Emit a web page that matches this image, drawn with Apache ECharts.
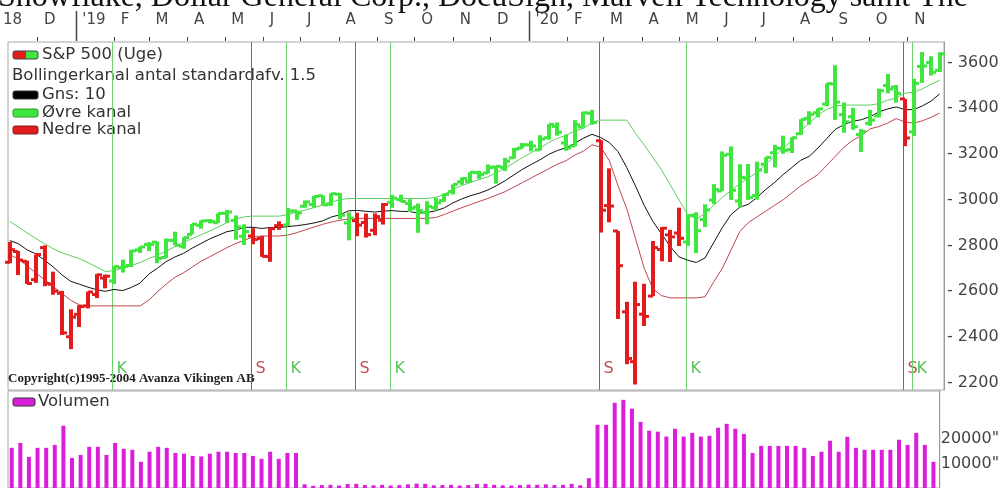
<!DOCTYPE html>
<html><head><meta charset="utf-8">
<script src="https://cdn.jsdelivr.net/npm/echarts@6/dist/echarts.min.js"></script>
<style>html,body{margin:0;padding:0;background:#fff}#c{width:1002px;height:488px}</style>
</head><body><div id="c"></div>
<script>
const weeks = [
'2018-11-09','2018-11-16','2018-11-23','2018-11-30','2018-12-07','2018-12-14','2018-12-21','2018-12-28',
'2019-01-04','2019-01-11','2019-01-18','2019-01-25','2019-02-01','2019-02-08','2019-02-15','2019-02-22',
'2019-03-01','2019-03-08','2019-03-15','2019-03-22','2019-03-29','2019-04-05','2019-04-12','2019-04-19','2019-04-26',
'2019-05-03','2019-05-10','2019-05-17','2019-05-24','2019-05-31','2019-06-07','2019-06-14','2019-06-21','2019-06-28',
'2019-07-05','2019-07-12','2019-07-19','2019-07-26','2019-08-02','2019-08-09','2019-08-16','2019-08-23','2019-08-30',
'2019-09-06','2019-09-13','2019-09-20','2019-09-27','2019-10-04','2019-10-11','2019-10-18','2019-10-25',
'2019-11-01','2019-11-08','2019-11-15','2019-11-22','2019-11-29','2019-12-06','2019-12-13','2019-12-20','2019-12-27',
'2020-01-03','2020-01-10','2020-01-17','2020-01-24','2020-01-31','2020-02-07','2020-02-14','2020-02-21','2020-02-28',
'2020-03-06','2020-03-13','2020-03-20','2020-03-27','2020-04-03','2020-04-10','2020-04-17','2020-04-24',
'2020-05-01','2020-05-08','2020-05-15','2020-05-22','2020-05-29','2020-06-05','2020-06-12','2020-06-19','2020-06-26',
'2020-07-03','2020-07-10','2020-07-17','2020-07-24','2020-07-31','2020-08-07','2020-08-14','2020-08-21','2020-08-28',
'2020-09-04','2020-09-11','2020-09-18','2020-09-25','2020-10-02','2020-10-09','2020-10-16','2020-10-23','2020-10-30',
'2020-11-06','2020-11-13','2020-11-20','2020-11-27'];

const opens = [2726,2773,2730,2650,2790,2630,2590,2400,2498,2535,2585,2657,2644,2703,2712,2780,2804,2814,2747,2822,2796,2848,2888,2908,2899,2940,2909,2840,2841,2830,2751,2886,2889,2951,2971,2979,3017,2981,3024,2898,2908,2900,2866,2910,2988,3001,2983,2968,2944,2965,2996,3035,3078,3080,3118,3117,3143,3141,3183,3226,3240,3218,3271,3321,3248,3235,3318,3378,3258,2974,2863,2509,2291,2499,2578,2782,2846,2854,2815,2932,2913,2998,3038,3199,2994,3094,3018,3155,3205,3225,3219,3289,3356,3380,3418,3507,3372,3363,3285,3334,3367,3500,3493,3441,3297,3583,3600,3566];
const highs = [2815,2775,2733,2760,2800,2685,2601,2520,2538,2598,2675,2672,2709,2738,2780,2794,2814,2817,2830,2860,2836,2894,2910,2915,2940,2955,2931,2892,2875,2841,2876,2905,2964,2952,2996,3017,3018,3028,3029,2944,2943,2939,2940,2985,3021,3022,3002,2983,2993,3008,3027,3067,3097,3120,3127,3154,3147,3183,3226,3248,3258,3282,3330,3338,3285,3348,3385,3393,3260,3137,2863,2553,2641,2632,2819,2880,2868,2965,2934,2945,2980,3068,3211,3233,3155,3156,3166,3186,3240,3280,3273,3352,3387,3399,3509,3588,3425,3402,3309,3393,3486,3550,3502,3441,3529,3646,3628,3645];
const lows = [2722,2670,2631,2636,2621,2584,2408,2346,2443,2524,2569,2612,2631,2681,2705,2767,2775,2722,2745,2800,2785,2848,2873,2896,2898,2900,2825,2802,2805,2750,2728,2868,2885,2912,2965,2965,2975,2973,2914,2822,2840,2834,2844,2891,2964,2990,2946,2855,2892,2953,2991,3023,3065,3074,3091,3115,3070,3125,3180,3224,3212,3215,3263,3280,3214,3234,3316,3328,2856,2901,2478,2280,2191,2447,2578,2730,2727,2797,2798,2766,2880,2980,3038,2999,2966,2999,3000,3115,3141,3201,3204,3284,3328,3360,3408,3349,3293,3306,3209,3323,3360,3465,3425,3234,3279,3511,3543,3559];
const closes = [2781,2736,2633,2760,2633,2600,2417,2486,2532,2596,2671,2665,2707,2708,2776,2793,2804,2743,2822,2801,2834,2893,2907,2905,2940,2946,2881,2860,2826,2752,2873,2887,2950,2942,2990,3014,2977,3026,2932,2919,2889,2847,2926,2979,3007,2992,2962,2952,2970,2986,3023,3067,3093,3120,3110,3141,3146,3169,3221,3240,3235,3265,3330,3295,3226,3328,3380,3338,2954,2972,2711,2305,2541,2489,2790,2875,2837,2831,2930,2864,2955,3044,3194,3041,3098,3009,3130,3185,3225,3216,3271,3351,3373,3397,3508,3427,3341,3319,3298,3348,3477,3484,3465,3270,3509,3585,3557,3638];

const movingAvg = [2821,2807,2780,2763,2735,2706,2671,2643,2630,2617,2606,2599,2607,2602,2616,2635,2674,2700,2729,2749,2765,2788,2808,2828,2844,2860,2867,2879,2879,2874,2878,2878,2882,2886,2891,2898,2907,2924,2934,2951,2953,2949,2946,2950,2952,2949,2948,2941,2944,2951,2964,2986,3003,3017,3028,3042,3061,3083,3108,3133,3154,3174,3198,3215,3227,3246,3269,3286,3272,3250,3210,3140,3060,2975,2905,2850,2795,2750,2735,2725,2745,2812,2878,2935,2967,2980,3010,3045,3075,3110,3141,3172,3190,3226,3267,3308,3329,3343,3350,3363,3384,3397,3406,3394,3394,3410,3431,3463];
const upperBand = [2905,2880,2855,2830,2808,2785,2768,2755,2742,2725,2705,2685,2690,2700,2712,2725,2742,2757,2774,2795,2812,2830,2846,2863,2880,2900,2915,2925,2928,2928,2928,2928,2935,2945,2955,2965,2977,2990,3000,3005,3005,3005,3005,3005,3005,3005,3005,3005,3005,3010,3022,3045,3062,3075,3088,3100,3118,3138,3160,3185,3205,3225,3250,3268,3282,3300,3312,3338,3348,3348,3348,3348,3290,3240,3185,3130,3065,3000,2935,2915,2940,2975,3010,3040,3070,3095,3120,3155,3190,3225,3260,3300,3335,3370,3395,3410,3414,3414,3414,3414,3420,3435,3445,3466,3470,3485,3505,3523];
const lowerBand = [2760,2740,2710,2680,2650,2620,2590,2560,2540,2535,2535,2535,2535,2535,2535,2535,2560,2597,2630,2660,2680,2705,2730,2750,2770,2790,2808,2822,2838,2841,2841,2841,2845,2855,2868,2880,2892,2902,2910,2915,2918,2918,2918,2918,2918,2918,2918,2918,2918,2922,2935,2950,2965,2978,2992,3005,3020,3035,3055,3075,3095,3115,3135,3155,3170,3195,3212,3240,3230,3170,3060,2960,2830,2700,2610,2580,2570,2570,2570,2570,2575,2640,2700,2780,2860,2900,2925,2950,2975,3000,3030,3060,3085,3110,3150,3190,3230,3260,3280,3310,3320,3335,3355,3340,3335,3345,3360,3379];

const volumes = [16400,18400,12700,16400,16400,17600,25400,12300,13500,16800,16800,13500,18400,16000,15600,10700,14800,16800,16400,14300,14000,13100,12900,14000,14800,14800,14300,14300,13100,11900,14800,11900,14300,14300,
1500,900,1200,1300,1000,1600,1700,1200,1100,1300,1000,1200,1500,1800,1700,1100,1200,1300,1000,1200,1600,1700,1300,1100,1000,1200,1400,1300,1500,1200,1300,1700,1100,4000,
25800,25800,34800,36000,32400,27000,23400,23000,21000,24200,21000,22500,21000,21300,24600,26200,24200,22100,14300,17200,17200,17200,17200,17200,16400,13100,14800,19300,14800,20900,16400,15600,15600,15600,15600,19700,17600,22500,17600,10700];

// signal index -> type (K = buy, S = sell)
const signalIdx = [12,28,32,40,44,68,78,103,104];
const signalType = ['K','S','K','S','K','S','K','S','K'];
const priceTicks = [2200,2400,2600,2800,3000,3200,3400,3600];
const volumeTicks = [10000,20000];
const monthLetters = ['J','F','M','A','M','J','J','A','S','O','N','D'];

const RED = '#e21c1c', GREEN = '#3ee63e', MAG = '#dc1edc';
const DAY = 86400000;
const T = weeks.map(w => Date.parse(w));
const tMin = T[0] - 1.4 * DAY, tMax = T[T.length - 1] + 3.5 * DAY;

// month starts for the top axis tick marks
const monthStarts = [];
for (let y = 2018, m = 11; y < 2021; m++) {
  if (m > 11) { m = 0; y++; }
  if (y === 2020 && m > 11) break;
  const t = Date.UTC(y, m, 1);
  if (t > tMin && t < tMax) monthStarts.push([t, m]);
  if (y === 2020 && m === 11) break;
}

// bar colour state from the signals
const state = [];
let cur = 'S', si = 0;
for (let i = 0; i < T.length; i++) {
  if (si < signalIdx.length && signalIdx[si] === i) { cur = signalType[si]; si++; }
  state.push(cur === 'K' ? 1 : 0);
}

const ohlcData = T.map((t, i) => [t, opens[i], highs[i], lows[i], closes[i], state[i]]);
const font = '"DejaVu Sans", sans-serif';
const LF = '16.5px ' + font;

const chart = echarts.init(document.getElementById('c'), null, {renderer: 'canvas'});
chart.setOption({
  animation: false,
  useUTC: true,
  backgroundColor: '#fff',
  grid: [
    {left: 8, right: 58, top: 42, height: 348, show: true, borderColor: '#a8a8a8', borderWidth: 1, backgroundColor: '#fff'},
    {left: 8, right: 58, top: 391, height: 100, show: true, borderColor: '#a8a8a8', borderWidth: 1, backgroundColor: '#fff'}
  ],
  xAxis: [
    {type: 'time', gridIndex: 0, position: 'top', min: tMin, max: tMax, show: false},
    {type: 'time', gridIndex: 0, position: 'top', min: tMin - 5.5 * DAY, max: tMax - 5.5 * DAY, splitNumber: 26,
     minInterval: 28 * DAY, maxInterval: 31 * DAY,
     axisLine: {show: false}, axisTick: {show: false}, splitLine: {show: false},
     axisLabel: {show: true, margin: 14, align: 'left', color: '#444', fontFamily: font, fontSize: 15,
       showMinLabel: false, showMaxLabel: false,
       formatter: function (v) { const d = new Date(v); const m = d.getUTCMonth();
         return m === 0 ? "'" + String(d.getUTCFullYear()).slice(2) : monthLetters[m]; }}},
    {type: 'time', gridIndex: 1, min: tMin, max: tMax, show: false}
  ],
  yAxis: [
    {type: 'value', gridIndex: 0, position: 'right', min: 2167, max: 3690, splitNumber: 8, scale: true,
     axisLine: {show: true, lineStyle: {color: '#999'}}, axisTick: {show: false}, splitLine: {show: false},
     axisLabel: {margin: 3, color: '#444', fontFamily: font, fontSize: 16,
       formatter: v => priceTicks.indexOf(v) >= 0 ? '- ' + v : ''}},
    {type: 'value', gridIndex: 1, position: 'right', min: 0, max: 39600, splitNumber: 4,
     axisLine: {show: true, lineStyle: {color: '#999'}}, axisTick: {show: false}, splitLine: {show: false},
     axisLabel: {margin: 1, color: '#444', fontFamily: font, fontSize: 16,
       formatter: v => volumeTicks.indexOf(v) >= 0 ? v + '"' : ''}}
  ],
  series: [
    {type: 'custom', xAxisIndex: 0, yAxisIndex: 0, z: 1, clip: false, silent: true,
     data: monthStarts,
     renderItem: function (params, api) {
       const x = Math.round(api.coord([api.value(0), 3000])[0]) + 0.5;
       const cs = params.coordSys;
       const isYear = api.value(1) === 0;
       return {type: 'line', shape: {x1: x, y1: isYear ? 11 : cs.y - 5, x2: x, y2: cs.y - 1},
         style: {stroke: '#444', lineWidth: isYear ? 1.5 : 1}};
     }},
    {type: 'custom', xAxisIndex: 0, yAxisIndex: 0, z: 1,
     data: signalIdx.map((i, k) => [T[i], signalType[k] === 'K' ? 1 : 0]),
     renderItem: function (params, api) {
       const isK = api.value(1) === 1;
       const x = Math.round(api.coord([api.value(0), 3000])[0]) - 1.5;
       const cs = params.coordSys;
       const col = isK ? '#6fd26f' : '#d0404e';
       return {type: 'group', children: [
         {type: 'line', shape: {x1: x, y1: cs.y, x2: x, y2: cs.y + cs.height}, style: {stroke: col, lineWidth: 1}},
         {type: 'text', style: {text: isK ? 'K' : 'S', x: x + 4, y: cs.y + cs.height - 21, fill: isK ? '#58c458' : '#c0505a',
           font: '16px ' + font, verticalAlign: 'middle'}}
       ]};
     }},
    {type: 'line', xAxisIndex: 0, yAxisIndex: 0, z: 2, symbol: 'none', data: T.map((t, i) => [t, upperBand[i]]),
     lineStyle: {color: '#5ccf5c', width: 1}},
    {type: 'line', xAxisIndex: 0, yAxisIndex: 0, z: 2, symbol: 'none', data: T.map((t, i) => [t, lowerBand[i]]),
     lineStyle: {color: '#c0464e', width: 1}},
    {type: 'line', xAxisIndex: 0, yAxisIndex: 0, z: 3, symbol: 'none', data: T.map((t, i) => [t, movingAvg[i]]),
     lineStyle: {color: '#111', width: 1}},
    {type: 'custom', xAxisIndex: 0, yAxisIndex: 0, z: 4, data: ohlcData,
     encode: {x: 0, y: [1, 2, 3, 4]},
     renderItem: function (params, api) {
       const t = api.value(0);
       const pO = api.coord([t, api.value(1)]);
       const pH = api.coord([t, api.value(2)]);
       const pL = api.coord([t, api.value(3)]);
       const pC = api.coord([t, api.value(4)]);
       const col = api.value(5) === 1 ? GREEN : RED;
       const x = Math.round(pH[0]);
       return {type: 'group', children: [
         {type: 'line', shape: {x1: x, y1: pH[1], x2: x, y2: pL[1]}, style: {stroke: col, lineWidth: 4}},
         {type: 'line', shape: {x1: x - 5, y1: pO[1], x2: x, y2: pO[1]}, style: {stroke: col, lineWidth: 3}},
         {type: 'line', shape: {x1: x, y1: pC[1], x2: x + 5, y2: pC[1]}, style: {stroke: col, lineWidth: 3}}
       ]};
     }},
    {type: 'bar', xAxisIndex: 2, yAxisIndex: 1, barWidth: 4, data: T.map((t, i) => [t, volumes[i]]),
     itemStyle: {color: MAG}}
  ],
  graphic: [
    {type: 'text', x: -2, y: 14, style: {text: 'Snowflake, Dollar General Corp., DocuSign, Marvell Technology samt The', font: '32px "Liberation Serif", serif', fill: '#111', verticalAlign: 'bottom'}},
    {type: 'text', x: 3, y: 20, style: {text: '18', font: '15px ' + font, fill: '#444', verticalAlign: 'middle'}},
    {type: 'rect', shape: {x: 13, y: 51, width: 13, height: 8, r: [2, 0, 0, 2]}, style: {fill: RED}},
    {type: 'rect', shape: {x: 26, y: 51, width: 12, height: 8, r: [0, 2, 2, 0]}, style: {fill: GREEN}},
    {type: 'rect', shape: {x: 13, y: 51, width: 25, height: 8, r: 2}, style: {fill: 'none', stroke: '#444', lineWidth: 1}},
    {type: 'text', x: 42, y: 55, style: {text: 'S&P 500 (Uge)', font: LF, fill: '#333', verticalAlign: 'middle'}},
    {type: 'text', x: 12, y: 76, style: {text: 'Bollingerkanal antal standardafv. 1.5', font: LF, fill: '#333', verticalAlign: 'middle'}},
    {type: 'rect', shape: {x: 13, y: 91, width: 25, height: 8, r: 2}, style: {fill: '#000', stroke: '#333', lineWidth: 1}},
    {type: 'text', x: 42, y: 95, style: {text: 'Gns: 10', font: LF, fill: '#333', verticalAlign: 'middle'}},
    {type: 'rect', shape: {x: 13, y: 109, width: 25, height: 8, r: 2}, style: {fill: GREEN, stroke: '#2a9a2a', lineWidth: 1}},
    {type: 'text', x: 42, y: 113, style: {text: 'Øvre kanal', font: LF, fill: '#333', verticalAlign: 'middle'}},
    {type: 'rect', shape: {x: 13, y: 126, width: 25, height: 8, r: 2}, style: {fill: RED, stroke: '#8a1a1a', lineWidth: 1}},
    {type: 'text', x: 42, y: 130, style: {text: 'Nedre kanal', font: LF, fill: '#333', verticalAlign: 'middle'}},
    {type: 'text', x: 8, y: 379, style: {text: 'Copyright(c)1995-2004 Avanza Vikingen AB', font: 'bold 13px "Liberation Serif", serif', fill: '#222', verticalAlign: 'middle'}},
    {type: 'rect', shape: {x: 13, y: 398, width: 22, height: 8, r: 2}, style: {fill: MAG, stroke: '#333', lineWidth: 1}},
    {type: 'text', x: 38, y: 402, style: {text: 'Volumen', font: LF, fill: '#333', verticalAlign: 'middle'}}
  ]
});
</script></body></html>
